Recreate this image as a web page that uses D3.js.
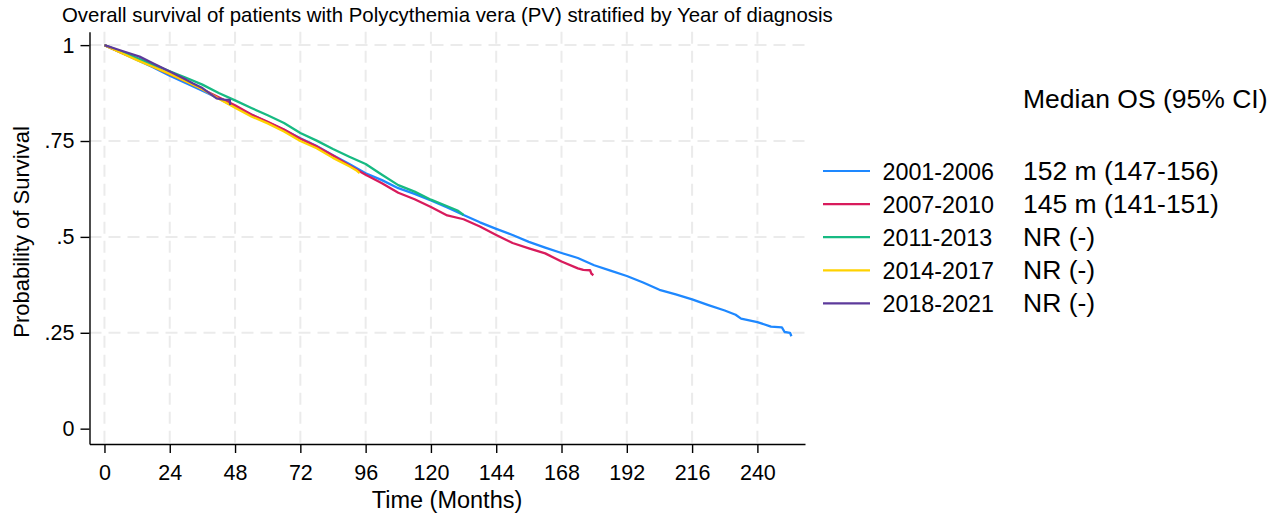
<!DOCTYPE html>
<html>
<head>
<meta charset="utf-8">
<script src="https://cdn.jsdelivr.net/npm/d3@7"></script>
<style>
  html, body { margin: 0; padding: 0; background: #fff; }
  svg { display: block; }
  text { font-family: "Liberation Sans", Arial, Helvetica, sans-serif; fill: #000; }
</style>
</head>
<body>
<svg id="chart" width="1279" height="518"></svg>
<script>
// ---------------- DATA ----------------
const titleText = "Overall survival of patients with Polycythemia vera (PV) stratified by Year of diagnosis";
const xTitle = "Time (Months)";
const yTitle = "Probability of Survival";
const xTicks = [0, 24, 48, 72, 96, 120, 144, 168, 192, 216, 240];
const yTicks = [0, 0.25, 0.5, 0.75, 1];
const yTickLabels = ["0", ".25", ".5", ".75", "1"];

const groups = ["2001-2006", "2007-2010", "2011-2013", "2014-2017", "2018-2021"];
const groupColors = ["#1E88FF", "#D81B5C", "#17BA82", "#FFD200", "#5D3A9B"];
const medianHeader = "Median OS (95% CI)";
const medianLabels = ["152 m (147-156)", "145 m (141-151)", "NR (-)", "NR (-)", "NR (-)"];

// [month, survival probability]
const surv2001 = [[0,1],[6,0.981],[12,0.961],[18,0.942],[24,0.920],[30,0.901],[36,0.881],[42,0.861],[48,0.839],[54,0.819],[60,0.799],[66,0.779],[72,0.757],[78,0.737],[84,0.713],[90,0.690],[96,0.666],[102,0.648],[108,0.627],[114,0.612],[120,0.595],[126,0.577],[132,0.557],[138,0.538],[144,0.521],[150,0.505],[156,0.487],[162,0.472],[168,0.458],[174,0.445],[180,0.426],[186,0.412],[192,0.398],[198,0.381],[204,0.362],[210,0.350],[216,0.337],[222,0.322],[228,0.308],[232,0.297],[234,0.287],[240,0.278],[245,0.266],[249,0.264],[250,0.252],[252,0.250],[252.5,0.241]];
const surv2007 = [[0,1],[6,0.981],[12,0.963],[18,0.944],[24,0.924],[30,0.905],[36,0.885],[42,0.864],[48,0.843],[54,0.819],[60,0.800],[66,0.780],[72,0.756],[78,0.736],[84,0.712],[90,0.686],[96,0.662],[102,0.640],[108,0.615],[114,0.598],[120,0.578],[126,0.556],[132,0.546],[138,0.527],[144,0.505],[150,0.484],[156,0.470],[162,0.457],[168,0.436],[174,0.418],[176,0.414],[178.5,0.413],[179,0.404],[179.7,0.400]];
const surv2011 = [[0,1],[6,0.983],[12,0.966],[18,0.949],[24,0.932],[30,0.915],[36,0.897],[42,0.875],[48,0.856],[54,0.836],[60,0.817],[66,0.797],[72,0.771],[78,0.751],[84,0.729],[90,0.709],[96,0.690],[102,0.662],[108,0.635],[114,0.618],[120,0.597],[126,0.580],[130,0.568],[132,0.557]];
const surv2014 = [[0,1],[6,0.980],[12,0.961],[18,0.943],[24,0.925],[30,0.905],[36,0.885],[42,0.860],[48,0.837],[54,0.814],[60,0.796],[66,0.775],[72,0.750],[78,0.731],[84,0.706],[90,0.684],[92.5,0.674],[93.8,0.666]];
const surv2018 = [[0,1],[6,0.986],[12.9,0.970],[18,0.952],[24,0.931],[30,0.910],[32.6,0.900],[36,0.888],[41.2,0.861],[44,0.858],[46.1,0.857],[46.2,0.844]];
const seriesData = [surv2001, surv2007, surv2011, surv2014, surv2018];

// ---------------- DRAW ----------------
const svg = d3.select("#chart");
const x = d3.scaleLinear().domain([-5.5, 257.5]).range([89.5, 805]);
const y = d3.scaleLinear().domain([-0.04, 1.035]).range([444, 31.7]);

// grid
const grid = svg.append("g");
grid.selectAll("line.vg").data(xTicks).join("line")
  .attr("x1", d => x(d)).attr("x2", d => x(d))
  .attr("y1", y.range()[1]).attr("y2", y.range()[0])
  .attr("stroke", "#ebebeb").attr("stroke-width", 2).attr("stroke-dasharray", "12,7");
grid.selectAll("line.hg").data(yTicks.filter(d => d > 0)).join("line")
  .attr("x1", x.range()[0]).attr("x2", x.range()[1])
  .attr("y1", d => y(d)).attr("y2", d => y(d))
  .attr("stroke", "#ebebeb").attr("stroke-width", 2).attr("stroke-dasharray", "12,7");

// curves
const line = d3.line().x(d => x(d[0])).y(d => y(d[1])).curve(d3.curveLinear);
svg.append("g").selectAll("path").data(seriesData).join("path")
  .attr("d", line)
  .attr("fill", "none")
  .attr("stroke", (d, i) => groupColors[i])
  .attr("stroke-width", 2.3)
  .attr("stroke-linejoin", "round");

// axes
const xAxis = d3.axisBottom(x).tickValues(xTicks).tickSize(9).tickSizeOuter(0).tickPadding(12);
const yAxis = d3.axisLeft(y).tickValues(yTicks).tickSize(9).tickSizeOuter(0).tickPadding(6)
  .tickFormat((d, i) => yTickLabels[i]);
const gx = svg.append("g").attr("transform", "translate(0,444)").call(xAxis);
const gy = svg.append("g").attr("transform", "translate(89.5,0)").call(yAxis);
[gx, gy].forEach(g => {
  g.select(".domain").attr("stroke", "#000").attr("stroke-width", 1.4);
  g.selectAll(".tick line").attr("stroke", "#000").attr("stroke-width", 1.4);
  g.selectAll(".tick text").attr("font-size", 21.5).attr("fill", "#000")
    .style("font-family", '"Liberation Sans", Arial, sans-serif');
});

// titles
svg.append("text").attr("x", 62).attr("y", 22).attr("font-size", 20.4).text(titleText);
svg.append("text").attr("x", 447).attr("y", 508).attr("text-anchor", "middle").attr("font-size", 23.5).text(xTitle);
svg.append("text").attr("transform", "translate(29,232) rotate(-90)").attr("text-anchor", "middle")
  .attr("font-size", 22).text(yTitle);

// legend
const legendY0 = 171, legendStep = 33.1;
const leg = svg.append("g");
groups.forEach((g, i) => {
  const yy = legendY0 + i * legendStep;
  leg.append("line").attr("x1", 823).attr("x2", 870).attr("y1", yy).attr("y2", yy)
    .attr("stroke", groupColors[i]).attr("stroke-width", 2.2);
  leg.append("text").attr("x", 882.5).attr("y", yy + 9).attr("font-size", 23.3).text(g);
  svg.append("text").attr("x", 1023).attr("y", yy + 9).attr("font-size", 26.5).text(medianLabels[i]);
});
svg.append("text").attr("x", 1023).attr("y", 108).attr("font-size", 26.5).text(medianHeader);
</script>
</body>
</html>
